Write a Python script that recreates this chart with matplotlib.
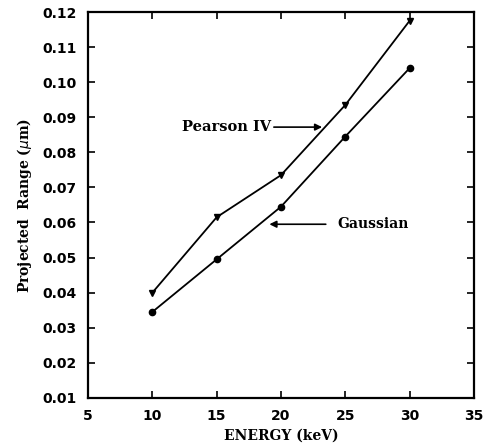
import matplotlib
matplotlib.use("Agg")
import matplotlib.pyplot as plt

energy = [10, 15, 20, 25, 30]
pearson_iv = [0.040, 0.0615, 0.0735, 0.0935, 0.1175]
gaussian = [0.0345, 0.0495, 0.0645, 0.0845, 0.104]
x_ticks = [5, 10, 15, 20, 25, 30, 35]
y_ticks = [0.01, 0.02, 0.03, 0.04, 0.05, 0.06, 0.07, 0.08, 0.09, 0.10, 0.11, 0.12]

fig = plt.figure(figsize=(4.84, 4.48), dpi=100)
ax = fig.add_axes([0.182, 0.112, 0.797, 0.861])

ax.plot(energy, pearson_iv, color="black", lw=1.3, marker="v", ms=4)
ax.plot(energy, gaussian, color="black", lw=1.3, marker="o", ms=4.5)

ax.set_xlim(5, 35)
ax.set_ylim(0.01, 0.12)
ax.set_xticks(x_ticks)
ax.set_yticks(y_ticks)
ax.set_xticklabels([str(v) for v in x_ticks])
ax.set_yticklabels([f"{v:.2f}" for v in y_ticks])
ax.tick_params(direction="in", top=True, right=True, length=5, width=1.2,
               labelsize=10, pad=8)
for lab in ax.get_xticklabels() + ax.get_yticklabels():
    lab.set_fontweight("bold")
for s in ax.spines.values():
    s.set_linewidth(1.6)

serif = "DejaVu Serif"
ax.set_xlabel("ENERGY (keV)", fontfamily=serif, fontweight="bold", fontsize=10, labelpad=4)
ax.set_ylabel(r"Projected  Range ($\mu$m)", fontfamily=serif, fontweight="bold", fontsize=10, labelpad=6)

ax.annotate("Pearson IV", xy=(23.2, 0.0872), xytext=(12.3, 0.0872),
            fontfamily=serif, fontweight="bold", fontsize=10.5, va="center",
            arrowprops=dict(arrowstyle="-|>", color="black", lw=1.2,
                            shrinkA=0, shrinkB=0, mutation_scale=10))
ax.annotate("Gaussian", xy=(19.1, 0.0595), xytext=(24.35, 0.0595),
            fontfamily=serif, fontweight="bold", fontsize=10, va="center",
            arrowprops=dict(arrowstyle="-|>", color="black", lw=1.2,
                            shrinkA=6, shrinkB=0, mutation_scale=10))

fig.savefig("out.png", dpi=100)
